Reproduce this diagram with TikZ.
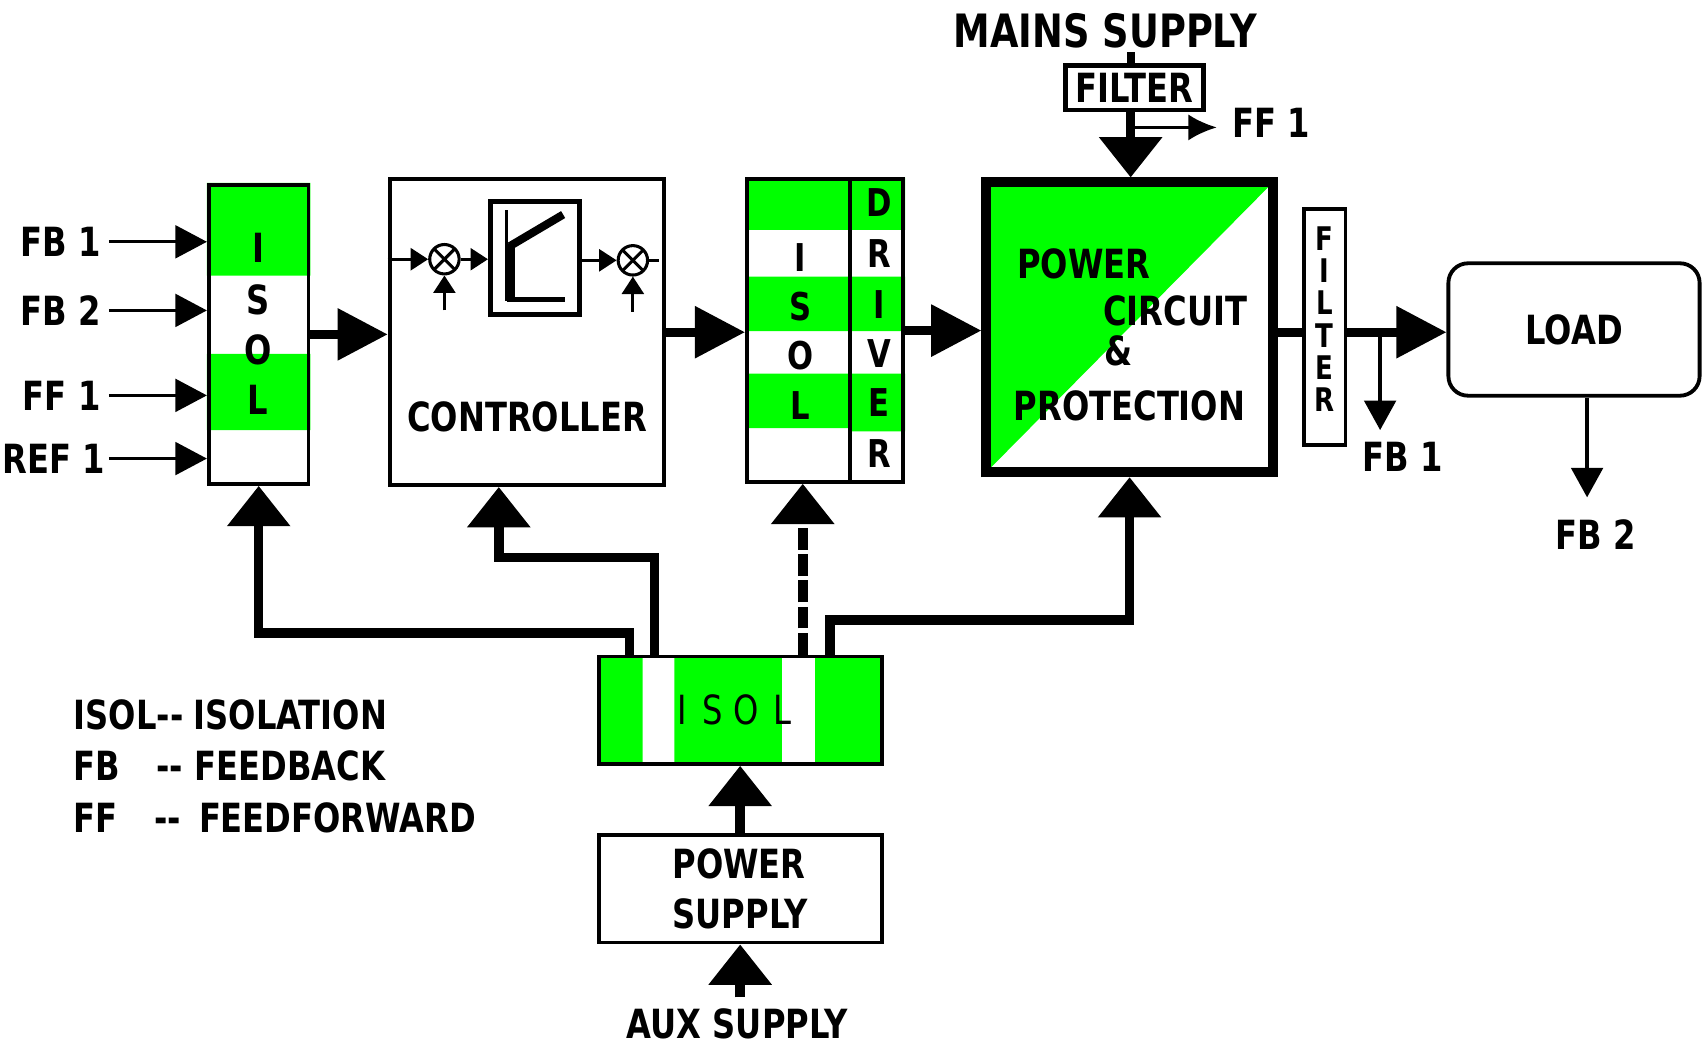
\documentclass[tikz,border=0pt]{standalone}
\usepackage{fontspec}
\setmainfont{DejaVu Sans}[FakeStretch=0.8]
\usetikzlibrary{arrows.meta,positioning,calc}
\definecolor{isolgreen}{RGB}{0,255,0}

\begin{document}
\begin{tikzpicture}[
        x=0.01cm, y=-0.01cm,
        every node/.style={inner sep=0pt, font=\bfseries\fontsize{10.5}{13}\selectfont},
        box/.style={draw, line width=1pt},
        mainslbl/.style={font=\bfseries\fontsize{12}{14}\selectfont},
        column/.style={font=\bfseries\fontsize{10}{12}\selectfont},
        vfilter/.style={font=\bfseries\fontsize{8.5}{10}\selectfont},
        sig/.style={line width=0.85pt, -{Triangle[length=0.29cm,width=0.30cm]}},
        fbarrow/.style={line width=0.85pt, -{Triangle[length=0.27cm,width=0.29cm]}},
        tinyarrow/.style={line width=0.8pt, -{Triangle[length=0.16cm,width=0.2cm]}},
        flow/.style={line width=2.3pt, -{Triangle[length=0.46cm,width=0.46cm]}},
        supply/.style={line width=2.5pt, line join=miter, -{Triangle[length=0.37cm,width=0.56cm]}},
        sumpt/.style={draw, circle, line width=0.8pt, minimum size=0.27cm,
            path picture={\draw[line width=0.8pt]
                (path picture bounding box.north west) -- (path picture bounding box.south east)
                (path picture bounding box.north east) -- (path picture bounding box.south west);}}
    ]
    \useasboundingbox (0,0) rectangle (1568,962);

    % isolation in front of the controller
    \fill[isolgreen] (190,168) rectangle (285,253) (190,325) rectangle (285,395);
    \node[box, minimum width=0.915cm, minimum height=2.745cm] (isolL) at (237.5,307) {};
    \foreach \l/\y [count=\i] in {I/228, S/275, O/321, L/367}
        \node (isolL-\i) at (237,\y) {\l};
    \foreach \txt/\x/\y [count=\i] in {FB 1/93/222, FB 2/93/285, FF 1/93/363, REF 1/97/421} {
        \node[anchor=east] (in\i) at (\x,\y) {\txt};
        \draw[sig] (in\i.east -| 100,0) -- (in\i -| isolL.west);
    }

    % controller
    \node[box, minimum width=2.515cm, minimum height=2.805cm] (ctrl) at (483.5,305) {};
    \node (ctrl-txt) at (484,383) {CONTROLLER};
    \node[sumpt] (sum1) at (408,238) {};
    \node[draw, line width=1.3pt, minimum width=0.814cm, minimum height=1.034cm] (lim) at (491,237) {};
    \node[sumpt] (sum2) at (581,239) {};
    \draw[line width=0.9pt] (465,193) -- (465,276);
    \draw[line width=2.5pt] (468,224) -- (468,276);
    \draw[line width=1.3pt] (465,274.6) -- (519,274.6);
    \draw[line width=2.1pt] (468,226) -- (517,197);
    \coordinate (sum1-in) at (408,285);
    \coordinate (sum2-in) at (581,286);
    \coordinate (sum2-out) at (605,239);
    \draw[tinyarrow] (ctrl.west |- sum1) -- (sum1.west);
    \draw[tinyarrow] (sum1.east) -- (lim.west |- sum1);
    \draw[tinyarrow] (lim.east |- sum2) -- (sum2.west);
    \draw[line width=0.8pt] (sum2.east) -- (sum2-out);
    \draw[tinyarrow] (sum1-in) -- (sum1.south);
    \draw[tinyarrow] (sum2-in) -- (sum2.south);

    % isolation + driver
    \fill[isolgreen] (684,163) rectangle (831,211) (684,254) rectangle (831,304)
        (684,343) rectangle (780,393) (780,343) rectangle (831,396);
    \node[box, minimum width=1.435cm, minimum height=2.775cm] (drv) at (757.5,303.5) {};
    \draw[line width=1pt] ([xshift=0.225cm]drv.north) -- ([xshift=0.225cm]drv.south);
    \foreach \l/\y [count=\i] in {I/236, S/281, O/326, L/372}
        \node[column] (drv-i\i) at (735,\y) {\l};
    \foreach \l/\y [count=\i] in {D/186, R/233, I/280, V/325, E/370, R/416}
        \node[column] (drv-d\i) at (807,\y) {\l};

    % power circuit
    \fill[isolgreen] (901,163) -- (1173,163) -- (901,438) -- cycle;
    \node[draw, line width=2.55pt, minimum width=2.63cm, minimum height=2.66cm] (pwr) at (1037,300.5) {};
    \node[anchor=west] (pwr-a) at (933,242) {POWER};
    \node[anchor=west] (pwr-b) at (1012,285) {CIRCUIT};
    \node (pwr-c) at (1027,322) {\&};
    \node[anchor=west] (pwr-d) at (930,373) {PROTECTION};

    % output filter and load
    \node[box, minimum width=0.385cm, minimum height=2.165cm] (filt2) at (1216,300) {};
    \foreach \l [count=\i] in {F,I,L,T,E,R}
        \node[vfilter] (filt2-\i) at (1216,{189.4+29.6*\i}) {\l};
    \node[box, rounded corners=0.18cm, minimum width=2.305cm, minimum height=1.215cm] (load) at (1445,302.5) {LOAD};
    \coordinate (outy) at (0,305);
    \coordinate (tap1) at (1267,305);
    \node (fbo1) at (1288,419) {FB 1};
    \node (fbo2) at (1465,491) {FB 2};

    % mains side
    \node[mainslbl] (mainsup) at (1015,28) {MAINS SUPPLY};
    \node[box, line width=1.2pt, minimum width=1.27cm, minimum height=0.41cm] (filt1) at (1041.5,80.5) {FILTER};
    \coordinate (tap2) at (1038,117);
    \node[anchor=west] (ffo1) at (1131,113) {FF 1};

    % auxiliary supply
    \fill[isolgreen] (548,601) rectangle (811,703);
    \fill[white] (590,601) rectangle (619,703) (718,601) rectangle (748,703);
    \node[box, minimum width=2.595cm, minimum height=0.985cm] (isolB) at (679.5,652) {};
    \foreach \l/\x [count=\i] in {I/626, S/654, O/685, L/718}
        \node[font=\fontsize{10.5}{13}\selectfont] (isolB-\i) at (\x,652) {\l};
    \node[box, minimum width=2.595cm, minimum height=0.985cm, align=left] (psu) at (679.5,816) {POWER\\SUPPLY};
    \node[anchor=south] (aux) at (677,955) {AUX SUPPLY};
    \coordinate (dashx) at ($(drv.south west)+(53,0)$);

    % legend
    \node[anchor=base west] (key1) at (67,669.5) {ISOL-{}-};
    \node[anchor=base west] (val1) at (177,669.5) {ISOLATION};
    \node[anchor=base west] (key2) at (67,716.5) {FB};
    \node[anchor=base west] (dash2) at (143,716.5) {-{}-};
    \node[anchor=base west] (val2) at (178,716.5) {FEEDBACK};
    \node[anchor=base west] (key3) at (67,764.5) {FF};
    \node[anchor=base west] (dash3) at (141,764.5) {-{}-};
    \node[anchor=base west] (val3) at (182,764.5) {FEEDFORWARD};

    % main signal path
    \draw[flow] (isolL.east) -- (ctrl.west |- isolL.east);
    \draw[flow] (ctrl.east) -- (drv.west |- ctrl.east);
    \draw[flow] (drv.east) -- (pwr.west |- drv.east);
    \draw[line width=2.3pt] (pwr.east |- outy) -- (filt2.west |- outy);
    \draw[flow] (filt2.east |- outy) -- (load.west |- outy);
    \draw[fbarrow, shorten >=0.1cm] (tap1) -- (tap1 |- fbo1.north);
    \draw[fbarrow, shorten >=0.2cm] ([xshift=0.12cm]load.south) -- ([xshift=0.12cm]load.south |- fbo2.north);
    \draw[line width=2pt] ([xshift=-0.035cm]filt1.north) -- ++(0,-10);
    \draw[supply] ([xshift=-0.035cm]filt1.south) -- ([xshift=-0.035cm]filt1.south |- pwr.north);
    \draw[line width=0.85pt, -{Latex[length=0.26cm,width=0.24cm]}, shorten >=0.14cm] (tap2) -- (ffo1.west |- tap2);

    % supply rails
    \draw[supply] ($(isolB.north west)+(30,0)$) -- ++(0,-20) -| (isolL.south);
    \draw[supply] ($(isolB.north west)+(53,0)$) -- ++(0,-89) -| ($(ctrl.south west)+(102,0)$);
    \draw[supply, dash pattern=on 0.2cm off 0.04cm] (dashx |- isolB.north) -- (dashx);
    \draw[supply] ($(isolB.north west)+(214,0)$) -- ++(0,-32) -| (pwr.south);
    \draw[supply] (psu.north) -- (isolB.south);
    \draw[supply, shorten <=0.1cm] (psu.south |- aux.north) -- (psu.south);
\end{tikzpicture}
\end{document}
